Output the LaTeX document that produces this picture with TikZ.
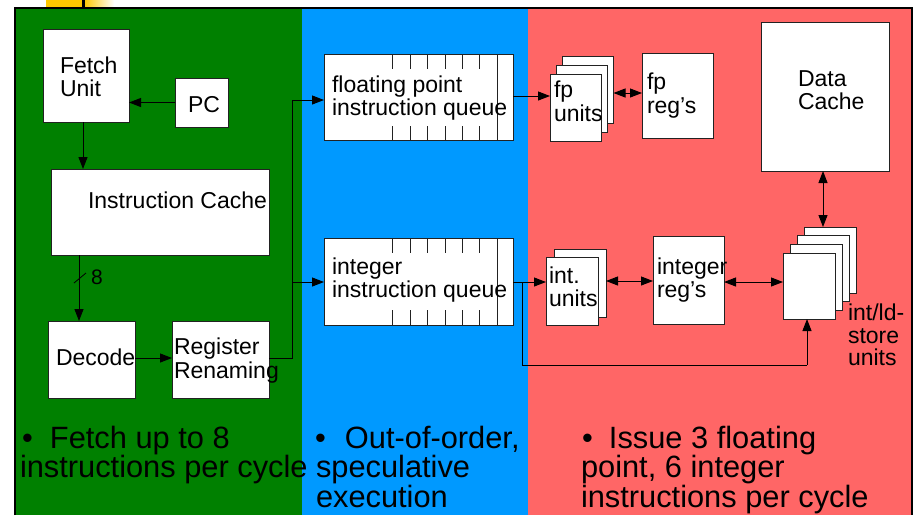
\documentclass[tikz,border=0pt]{standalone}
\usepackage{fontspec}
\setmainfont{Liberation Sans}
\usetikzlibrary{arrows.meta}
\definecolor{pgreen}{HTML}{008000}
\definecolor{pblue}{HTML}{0099FF}
\definecolor{pred}{HTML}{FF6666}
\definecolor{porange}{HTML}{FFC800}
\definecolor{edge}{HTML}{222222}
\tikzset{
  box/.style={draw=edge, fill=white, line width=1pt, inner sep=0pt, outer sep=0pt},
  txt/.style={anchor=base west, inner sep=0pt, outer sep=0pt, font=\fontsize{23}{23}\selectfont},
  bigtxt/.style={anchor=base west, inner sep=0pt, outer sep=0pt, font=\fontsize{30.8}{30.8}\selectfont},
  arr/.style={line width=1pt, -{Triangle[length=12pt,width=9pt]}},
  darr/.style={line width=1pt, {Triangle[length=12pt,width=9pt]}-{Triangle[length=12pt,width=9pt]}},
  wire/.style={line width=1pt},
  tick/.style={line width=0.9pt, draw=edge}
}
\begin{document}
\begin{tikzpicture}[x=1pt,y=-1pt]
\useasboundingbox (0,0) rectangle (916,515);
% top tab
\fill[porange] (46,0) rectangle (82,7);
\shade[left color=porange, right color=white] (84,0) rectangle (114,7);
\draw[line width=3pt] (83,0) -- (83,7);
% panels
\fill[pgreen] (15,8) rectangle (302,515);
\fill[pblue] (302,8) rectangle (528,515);
\fill[pred] (528,8) rectangle (912,515);
\draw[line width=2.5pt] (15,515) -- (15,8) -- (912,8) -- (912,515);

% green panel boxes
\node[box, minimum width=86pt, minimum height=93pt] (fetch) at (86,75.5) {};
\node[box, minimum width=53pt, minimum height=49pt] (pc) at (201.5,102.5) {};
\node[box, minimum width=218pt, minimum height=86pt] (icache) at (160,212) {};
\node[box, minimum width=87pt, minimum height=77pt] (decode) at (91.5,359.5) {};
\node[box, minimum width=97pt, minimum height=77pt] (rr) at (220.5,359.5) {};

% blue panel queues
\node[box, minimum width=189pt, minimum height=86pt] (fpq) at (418.5,97) {};
\node[box, minimum width=189pt, minimum height=87pt] (intq) at (418.5,281.5) {};
\foreach \x in {392,410,427,445,462,479}{
  \draw[tick] (\x,54) -- (\x,69);
  \draw[tick] (\x,126) -- (\x,140);
  \draw[tick] (\x,238) -- (\x,253);
  \draw[tick] (\x,310) -- (\x,325);
}
\draw[tick] (497,54) -- (497,140);
\draw[tick] (497,238) -- (497,325);

% red panel
\node[box, minimum width=51pt, minimum height=67pt] (fpu3) at (588,89.5) {};
\node[box, minimum width=51pt, minimum height=67pt] (fpu2) at (581.8,98.5) {};
\node[box, minimum width=51pt, minimum height=67pt] (fpu1) at (575.5,107.5) {};
\node[box, minimum width=71pt, minimum height=85pt] (fpreg) at (677.5,95.5) {};
\node[box, minimum width=128pt, minimum height=149pt] (dcache) at (825,96.5) {};
\node[box, minimum width=52pt, minimum height=68pt] (intu2) at (580,283) {};
\node[box, minimum width=52pt, minimum height=68pt] (intu1) at (572,291) {};
\node[box, minimum width=71pt, minimum height=88pt] (intreg) at (688.5,280) {};
\node[box, minimum width=52pt, minimum height=66pt] (ls4) at (830,260) {};
\node[box, minimum width=52pt, minimum height=66pt] (ls3) at (823,268.7) {};
\node[box, minimum width=52pt, minimum height=66pt] (ls2) at (816,277.3) {};
\node[box, minimum width=52pt, minimum height=66pt] (ls1) at (809,286) {};

% coordinates for wires
\coordinate (j1) at (292,358);
\coordinate (j2) at (292,100);
\coordinate (j3) at (292,282);
\coordinate (b1) at (522,282);
\coordinate (b2) at (522,365);
\coordinate (b3) at (807,365);

% connectors
\draw[arr] (pc.west) -- (fetch.east |- pc.west);
\draw[arr] ([xshift=-3pt]fetch.south) -- ([xshift=-3pt]fetch.south |- icache.north);
\draw[arr] (icache.south -| 79,0) -- (decode.north -| 79,0);
\draw[line width=0.8pt] (74,283) -- (86,273);
\draw[arr] (decode.east |- 0,358) -- (rr.west |- 0,358);
\draw[wire] (rr.east |- j1) -- (j1) -- (j2);
\draw[arr] (j2) -- (fpq.west |- j2);
\draw[arr] (j3) -- (intq.west |- j3);
\draw[arr] (fpq.east |- 0,96) -- (fpu1.west |- 0,96);
\draw[darr] (fpu3.east |- 0,93) -- (fpreg.west |- 0,93);
\draw[darr] (dcache.south -| 823,0) -- (ls4.north -| 823,0);
\draw[arr] (intq.east |- b1) -- (intu1.west |- b1);
\draw[wire] (b1) -- (b2) -- (b3);
\draw[arr] (b3) -- (ls1.south -| b3);
\draw[darr] (intu2.east |- 0,281) -- (intreg.west |- 0,281);
\draw[darr] (intreg.east |- 0,282) -- (ls1.west |- 0,282);

% labels
\node[txt] (tfetch1) at (60,73) {Fetch};
\node[txt] (tfetch2) at (60,96) {Unit};
\node[txt] (tpc) at (188,112) {PC};
\node[txt] (tic) at (88,208) {Instruction Cache};
\node[txt, font=\fontsize{21}{21}\selectfont] (t8) at (91,284) {8};
\node[txt] (tdec) at (56,365) {Decode};
\node[txt] (trr1) at (174,354) {Register};
\node[txt] (trr2) at (174,378) {Renaming};
\node[txt] (tfpq1) at (332,92) {floating point};
\node[txt] (tfpq2) at (332,115) {instruction queue};
\node[txt] (tiq1) at (332,274) {integer};
\node[txt] (tiq2) at (332,297) {instruction queue};
\node[txt] (tfpu1) at (554,97) {fp};
\node[txt] (tfpu2) at (554,121) {units};
\node[txt] (tfpr1) at (647,89) {fp};
\node[txt] (tfpr2) at (647,113) {reg’s};
\node[txt] (tdc1) at (798,86) {Data};
\node[txt] (tdc2) at (798,109) {Cache};
\node[txt] (tiu1) at (549,283) {int.};
\node[txt] (tiu2) at (549,306) {units};
\node[txt] (tir1) at (657,274) {integer};
\node[txt] (tir2) at (657,297) {reg’s};
\node[txt] (tls1) at (848,320) {int/ld-};
\node[txt] (tls2) at (848,343) {store};
\node[txt] (tls3) at (848,365) {units};

% bullet texts
\node[bigtxt] (g1) at (22,448) {\makebox[28pt][l]{\textbullet}Fetch up to 8};
\node[bigtxt] (g2) at (20,477.5) {instructions per cycle};
\node[bigtxt] (u1) at (315,448) {\makebox[30pt][l]{\textbullet}Out-of-order,};
\node[bigtxt] (u2) at (316,477.5) {speculative};
\node[bigtxt] (u3) at (316,507) {execution};
\node[bigtxt] (r1) at (582,448) {\makebox[27pt][l]{\textbullet}Issue 3 floating};
\node[bigtxt] (r2) at (581,477.5) {point, 6 integer};
\node[bigtxt] (r3) at (581,507) {instructions per cycle};
\end{tikzpicture}
\end{document}
